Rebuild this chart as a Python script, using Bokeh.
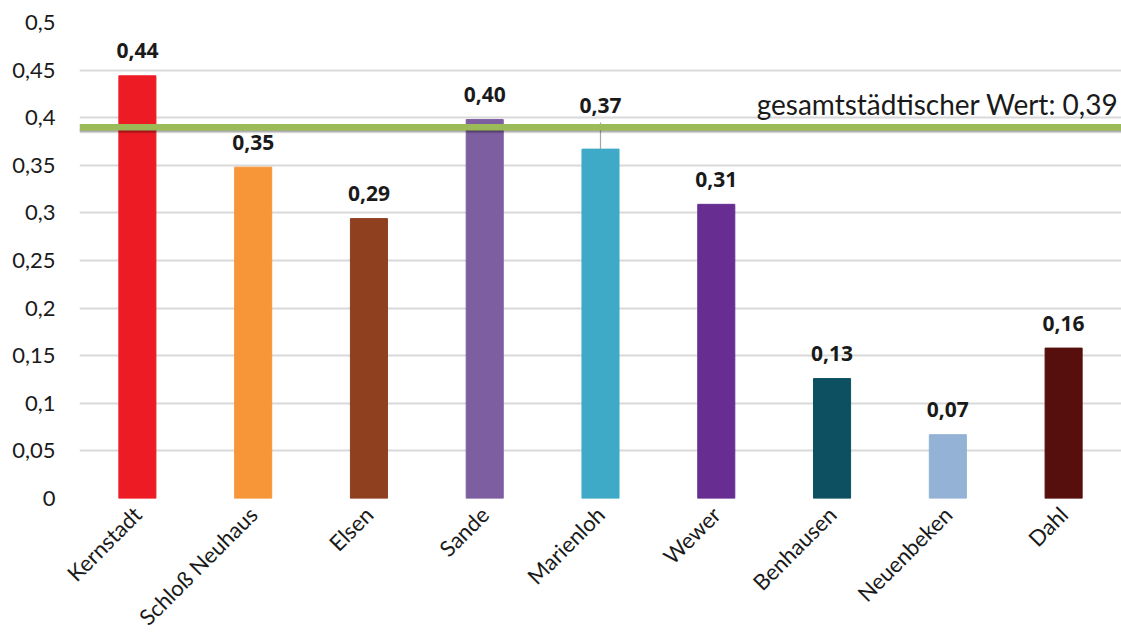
from bokeh.plotting import figure
from bokeh.models import ColumnDataSource, Range1d, Span, FixedTicker, CustomJSTickFormatter
from bokeh.core.properties import value
from bokeh.embed import file_html
from bokeh.resources import INLINE
from math import pi

# Stadtteile und Werte
districts = ["Kernstadt", "Schloß Neuhaus", "Elsen", "Sande", "Marienloh",
             "Wewer", "Benhausen", "Neuenbeken", "Dahl"]
values = [0.444, 0.348, 0.294, 0.398, 0.367, 0.309, 0.126, 0.067, 0.158]
colors = ["#ed1c24", "#f79539", "#8e401f", "#7d5ea0", "#3faac7",
          "#672d91", "#0d5061", "#93b2d6", "#560f0c"]
# vertical offset (px) of each value label above its bar
label_offsets = [-25, -25, -25, -25, -44, -25, -25, -25, -25]

city_value = 0.39
city_label = "gesamtstädtischer Wert: 0,39"
y_ticks = [0, 0.05, 0.1, 0.15, 0.2, 0.25, 0.3, 0.35, 0.4, 0.45, 0.5]

FONT = "Lato"
BOLD_FONT = "Open Sans"

src = ColumnDataSource(dict(
    x=districts,
    top=values,
    color=colors,
    label=[f"{v:.2f}".replace(".", ",") for v in values],
    off=label_offsets,
))

p = figure(x_range=districts, y_range=Range1d(0, 0.5),
           width=1121, height=643, output_backend="svg",
           toolbar_location=None, min_border_left=79, min_border_right=0,
           min_border_top=22, min_border_bottom=145)
p.outline_line_color = None
p.background_fill_color = "white"
p.border_fill_color = "white"

p.vbar(x="x", top="top", width=0.32, color="color", source=src)

# leader line for the raised Marienloh label
mi = districts.index("Marienloh")
p.segment(x0=[districts[mi]], x1=[districts[mi]], y0=[values[mi]],
          y1=[values[mi] + 0.028], line_color="#a6a6a6", line_width=1.2)

p.text(x="x", y="top", text="label", source=src, y_offset="off",
       text_align="center", text_baseline="middle",
       text_font=value(BOLD_FONT), text_font_style="bold",
       text_font_size="21px", text_color="#1a1a1a")

# city-wide reference line with soft shadow
for d, a in [(0.0052, 0.05), (0.0044, 0.09), (0.0036, 0.13), (0.0028, 0.15)]:
    p.add_layout(Span(location=city_value - d, dimension="width",
                      line_color="black", line_alpha=a, line_width=3))
p.add_layout(Span(location=city_value, dimension="width",
                  line_color="#9bbb59", line_width=6.5))
p.text(x=[districts[-1]], y=[city_value], text=[city_label],
       x_offset=55, y_offset=-23, text_align="right",
       text_baseline="alphabetic", text_font=value(FONT),
       text_font_size="28px", text_color="#1a1a1a")

# axes
p.yaxis.ticker = FixedTicker(ticks=y_ticks)
p.yaxis.formatter = CustomJSTickFormatter(
    code="return tick.toString().replace('.', ',');")
p.yaxis.axis_line_color = None
p.yaxis.major_tick_line_color = None
p.yaxis.minor_tick_line_color = None
p.yaxis.major_label_text_font = FONT
p.yaxis.major_label_text_font_size = "22px"
p.yaxis.major_label_text_color = "#1a1a1a"
p.yaxis.major_label_standoff = 18

p.xaxis.axis_line_color = None
p.xaxis.major_tick_line_color = None
p.xaxis.minor_tick_line_color = None
p.xaxis.major_label_orientation = pi / 4
p.xaxis.major_label_text_font = FONT
p.xaxis.major_label_text_font_size = "22px"
p.xaxis.major_label_text_color = "#1a1a1a"
p.xaxis.major_label_standoff = 6

p.xgrid.grid_line_color = None
p.ygrid.ticker = FixedTicker(ticks=y_ticks)
p.ygrid.grid_line_color = "#d9d9d9"
p.ygrid.grid_line_width = 2

open("out.html", "w").write(file_html(p, INLINE))
